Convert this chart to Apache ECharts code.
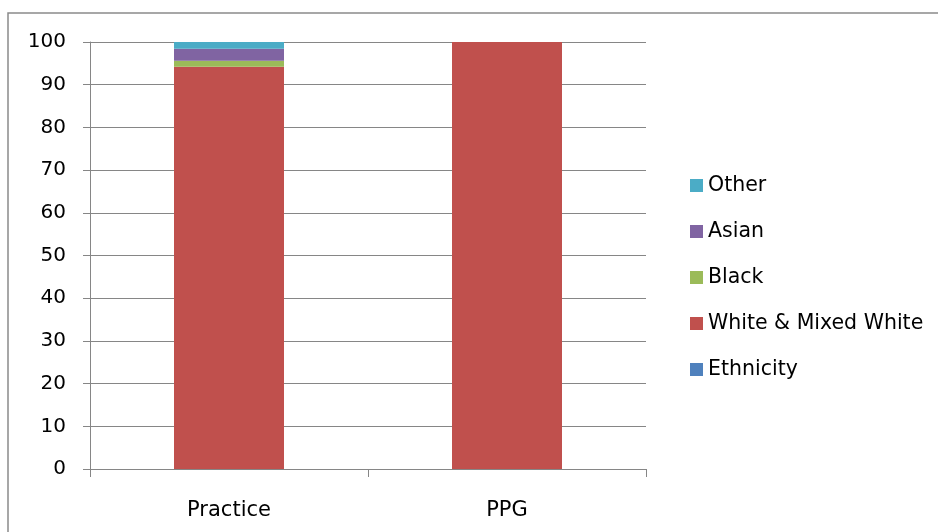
<!DOCTYPE html>
<html><head><meta charset="utf-8">
<script src="https://cdn.jsdelivr.net/npm/echarts@6/dist/echarts.min.js"></script>
<style>html,body{margin:0;padding:0;background:#fff}#c{width:938px;height:532px}</style>
</head><body><div id="c"></div>
<script>
const categories = ['Practice', 'PPG'];
const ethnicity = [0, 0];
const whiteMixed = [94.2, 100];
const black = [1.4, 0];
const asian = [2.8, 0];
const other = [1.6, 0];
const legendOrder = ['Other', 'Asian', 'Black', 'White & Mixed White', 'Ethnicity'];

const FONT = 'DejaVu Sans';
const chart = echarts.init(document.getElementById('c'));
function s(name, data, color) {
  return { name, type: 'bar', stack: 'a', data, barWidth: 110, itemStyle: { color }, emphasis: { disabled: true } };
}
chart.setOption({
  animation: false,
  textStyle: { fontFamily: FONT },
  graphic: [{ type: 'rect', shape: { x: 8, y: 13, width: 1000, height: 1000 }, style: { fill: null, stroke: '#8a8a8a', lineWidth: 1.5 }, z: -1 }],
  grid: { left: 90, right: 292, top: 42, bottom: 63 },
  legend: {
    orient: 'vertical', left: 685, top: 170, data: legendOrder,
    itemWidth: 13, itemHeight: 13, itemGap: 25, icon: 'rect',
    textStyle: { fontFamily: FONT, fontSize: 20.5, color: '#000', lineHeight: 21 }
  },
  xAxis: {
    type: 'category', data: categories,
    axisLine: { lineStyle: { color: '#868686', width: 1 } },
    axisTick: { show: true, length: 8, lineStyle: { color: '#868686' } },
    axisLabel: { fontFamily: FONT, fontSize: 21, color: '#000', margin: 31 }
  },
  yAxis: {
    type: 'value', min: 0, max: 100, interval: 10,
    axisLine: { show: true, lineStyle: { color: '#868686' } },
    axisTick: { show: true, length: 7, lineStyle: { color: '#868686' } },
    splitLine: { lineStyle: { color: '#868686', width: 1 } },
    axisLabel: { fontFamily: FONT, fontSize: 20, color: '#000', margin: 24 }
  },
  series: [
    s('Ethnicity', ethnicity, '#4F81BD'),
    s('White & Mixed White', whiteMixed, '#C0504D'),
    s('Black', black, '#9BBB59'),
    s('Asian', asian, '#8064A2'),
    s('Other', other, '#4BACC6')
  ]
});
</script></body></html>
